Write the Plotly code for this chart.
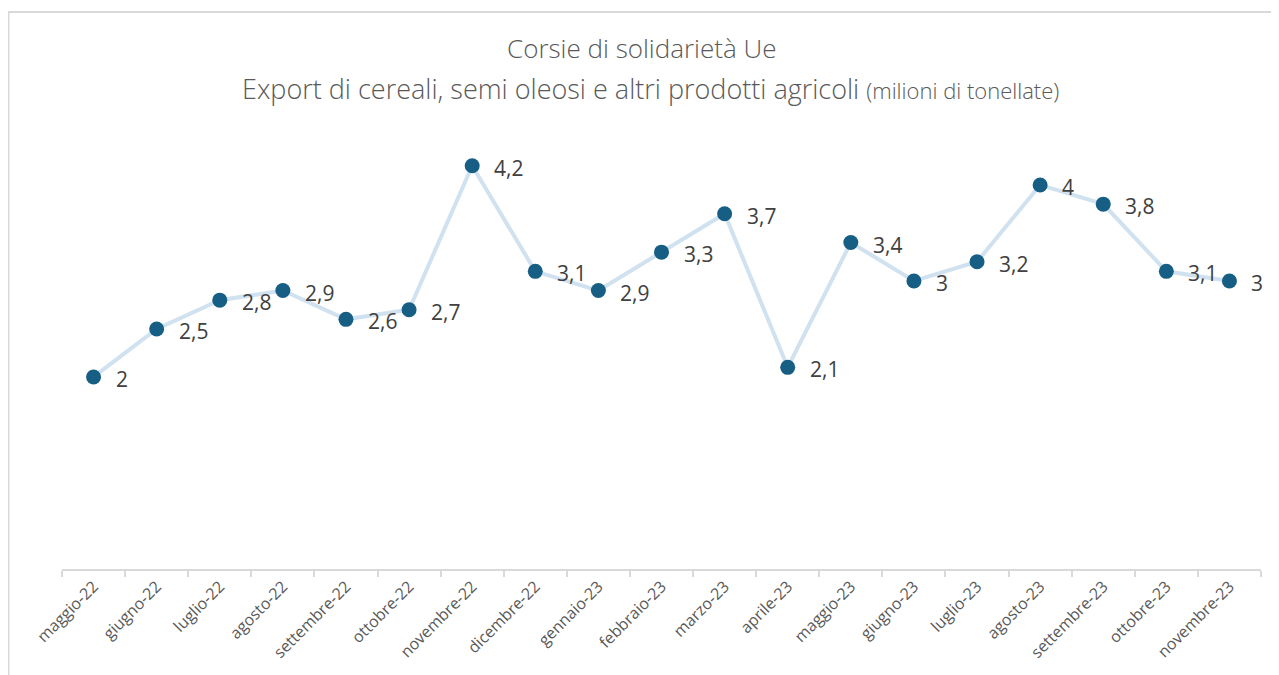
import plotly.graph_objects as go

categories = ["maggio-22", "giugno-22", "luglio-22", "agosto-22", "settembre-22", "ottobre-22",
              "novembre-22", "dicembre-22", "gennaio-23", "febbraio-23", "marzo-23", "aprile-23",
              "maggio-23", "giugno-23", "luglio-23", "agosto-23", "settembre-23", "ottobre-23",
              "novembre-23"]
values = [2, 2.5, 2.8, 2.9, 2.6, 2.7, 4.2, 3.1, 2.9, 3.3, 3.7, 2.1, 3.4, 3, 3.2, 4, 3.8, 3.1, 3]
labels = [f"{v:g}".replace(".", ",") for v in values]
title_line1 = "Corsie di solidarietà Ue"
title_line2 = "Export di cereali, semi oleosi e altri prodotti agricoli"
title_unit = "(milioni di tonellate)"

FONT = "Open Sans"
OFF = 8  # browser body margin
W, H = 1279 - OFF, 675 - OFF
# desired screen plot area: x 62..1261, y 135..571
L = 62 - OFF
R = W - (1261 - OFF)
T = 135 - OFF
B = H - (571 - OFF)
pw = W - L - R
ph = H - T - B


def px_x(sx):
    return (sx - OFF - L) / pw


def px_y(sy):
    return (H - B - (sy - OFF)) / ph


fig = go.Figure()
fig.add_trace(go.Scatter(
    x=categories, y=values, mode="lines+markers",
    line=dict(color="#d0e1ef", width=4),
    marker=dict(color="#175e85", size=15),
    cliponaxis=False, hoverinfo="x+y", showlegend=False,
))

for c, v, t in zip(categories, values, labels):
    fig.add_annotation(x=c, y=v, text=t, showarrow=False, xanchor="left", yanchor="middle",
                       xshift=20, yshift=-2,
                       font=dict(family=FONT, size=21, color="#404040"))

# title lines
fig.add_annotation(xref="paper", yref="paper", x=px_x(641), y=px_y(48), text=title_line1,
                   showarrow=False, xanchor="center", yanchor="middle",
                   font=dict(family=FONT, size=26, color="#595959", weight=300))
fig.add_annotation(xref="paper", yref="paper", x=px_x(650), y=px_y(88),
                   text=f"{title_line2} <span style='font-size:22px;color:#595959'>{title_unit}</span>",
                   showarrow=False, xanchor="center", yanchor="middle",
                   font=dict(family=FONT, size=27, color="#595959", weight=300))

fig.add_shape(type="rect", xref="paper", yref="paper",
              x0=(0.5 - L) / pw, x1=(W + 10 - L) / pw,
              y0=(H - B - (H + 10)) / ph, y1=(H - B - 3.5) / ph,
              line=dict(color="#d9d9d9", width=2), fillcolor="rgba(0,0,0,0)", layer="below")

fig.update_layout(
    width=W, height=H,
    margin=dict(l=L, r=R, t=T, b=B),
    paper_bgcolor="white", plot_bgcolor="white",
    xaxis=dict(
        type="category", range=[-0.5, len(categories) - 0.5],
        showline=True, linecolor="#d9d9d9", linewidth=2,
        ticks="outside", tickson="boundaries", ticklen=6, tickcolor="#d9d9d9", tickwidth=1.5,
        tickangle=-45, tickfont=dict(family=FONT, size=16, color="#595959"),
        showgrid=False, zeroline=False,
    ),
    yaxis=dict(range=[0, 4.52], showticklabels=False, showgrid=False, zeroline=False, showline=False),
)

fig.write_html("out.html")
